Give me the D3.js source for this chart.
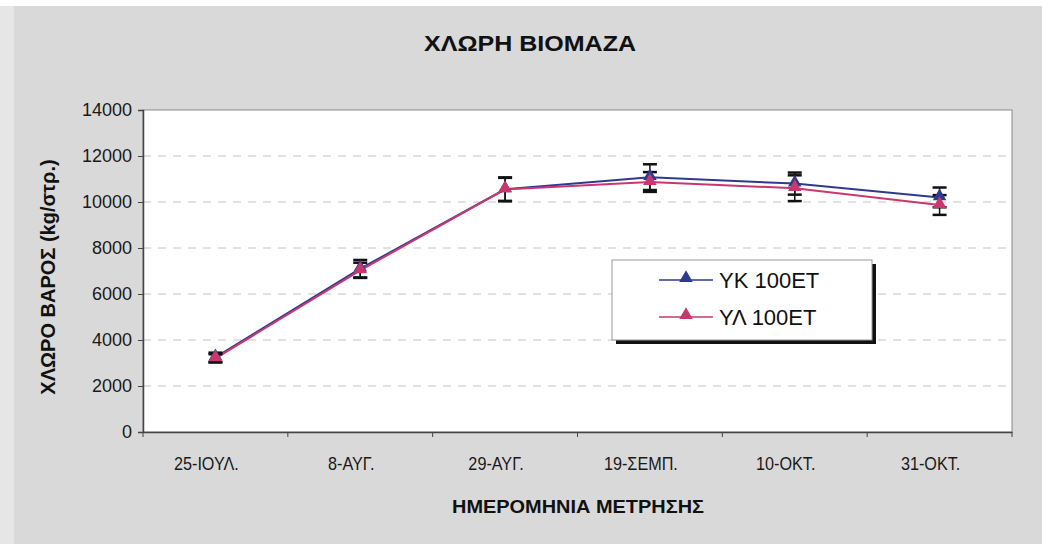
<!DOCTYPE html>
<html><head><meta charset="utf-8">
<script src="https://cdn.jsdelivr.net/npm/d3@7"></script>
<style>
html,body{margin:0;padding:0;background:#fff;}
svg{display:block;}
</style></head>
<body>
<svg id="chart" width="1042" height="544"></svg>
<script>
const categories = ["25-ΙΟΥΛ.", "8-ΑΥΓ.", "29-ΑΥΓ.", "19-ΣΕΜΠ.", "10-ΟΚΤ.", "31-ΟΚΤ."];
const seriesNames = ["ΥΚ 100ΕΤ", "ΥΛ 100ΕΤ"];
const ykValues = [3250, 7100, 10550, 11080, 10800, 10200];
const ykErrors = [200, 380, 520, 560, 480, 430];
const ylValues = [3200, 7030, 10550, 10870, 10600, 9870];
const ylErrors = [180, 330, 500, 430, 560, 430];
const yTicks = [0, 2000, 4000, 6000, 8000, 10000, 12000, 14000];

const W = 1042, H = 544;
const m = {left: 143, right: 1012, top: 110, bottom: 432};
const svg = d3.select("#chart");
const sans = "'Liberation Sans',Arial,sans-serif";

svg.append("rect").attr("x",0).attr("y",6).attr("width",W).attr("height",H-6).attr("fill","#d9d9d9");
svg.append("rect").attr("x",0).attr("y",6).attr("width",14).attr("height",H-6).attr("fill","#e6e6e6");

const x = d3.scaleBand().domain(categories).range([m.left, m.right]).padding(0);
const y = d3.scaleLinear().domain([0,14000]).range([m.bottom, m.top]);

// plot area
svg.append("rect").attr("x",m.left).attr("y",m.top).attr("width",m.right-m.left).attr("height",m.bottom-m.top)
  .attr("fill","#ffffff").attr("stroke","#8a8a8a").attr("stroke-width",1);

// gridlines
svg.append("g").selectAll("line").data(yTicks.filter(d=>d>0&&d<14000)).join("line")
  .attr("x1",m.left).attr("x2",m.right).attr("y1",d=>y(d)).attr("y2",d=>y(d))
  .attr("stroke","#c4c4c4").attr("stroke-width",1).attr("stroke-dasharray","8,7");

// y axis
const yAxis = svg.append("g").attr("transform",`translate(${m.left},0)`)
  .call(d3.axisLeft(y).tickValues(yTicks).tickSize(5).tickPadding(6).tickFormat(d3.format("d")));
yAxis.select(".domain").attr("stroke","#444").attr("stroke-width",1.5);
yAxis.selectAll(".tick line").attr("stroke","#444");
yAxis.selectAll("text").attr("font-family",sans).attr("font-size",18).attr("fill","#1a1a1a");

// x axis
const xAxis = svg.append("g").attr("transform",`translate(0,${m.bottom})`)
  .call(d3.axisBottom(x).tickSize(0).tickPadding(23));
xAxis.select(".domain").attr("stroke","#444").attr("stroke-width",1.5);
xAxis.selectAll("text").attr("font-family",sans).attr("font-size",18).attr("fill","#1a1a1a")
  .attr("dx",-10).attr("transform","scale(0.9,1.05)");
svg.append("g").selectAll("line").data(d3.range(categories.length+1)).join("line")
  .attr("x1",i=>m.left+i*x.bandwidth()).attr("x2",i=>m.left+i*x.bandwidth())
  .attr("y1",m.bottom).attr("y2",m.bottom+5).attr("stroke","#444");

// title
svg.append("text").attr("x",530).attr("y",51).attr("text-anchor","middle")
  .attr("font-family",sans).attr("font-weight","bold").attr("font-size",22).attr("fill","#111")
  .attr("textLength",212).attr("lengthAdjust","spacingAndGlyphs")
  .text("ΧΛΩΡΗ ΒΙΟΜΑΖΑ");
// y title
svg.append("text").attr("transform",`translate(55,277) rotate(-90)`).attr("text-anchor","middle")
  .attr("font-family",sans).attr("font-weight","bold").attr("font-size",20).attr("fill","#111")
  .text("ΧΛΩΡΟ ΒΑΡΟΣ (kg/στρ.)");
// x title
svg.append("text").attr("x",578).attr("y",513).attr("text-anchor","middle")
  .attr("font-family",sans).attr("font-weight","bold").attr("font-size",18).attr("fill","#111")
  .attr("textLength",252).attr("lengthAdjust","spacingAndGlyphs")
  .text("ΗΜΕΡΟΜΗΝΙΑ ΜΕΤΡΗΣΗΣ");

const cx = c => x(c) + x.bandwidth()/2;
const tri = d3.symbol().type(d3.symbolTriangle).size(80);
const series = [
  {name: seriesNames[0], values: ykValues, errors: ykErrors, color: "#2f3a8f"},
  {name: seriesNames[1], values: ylValues, errors: ylErrors, color: "#c8386e"}
];
const line = d3.line().x((d,i)=>cx(categories[i])).y(d=>y(d));

series.forEach(s => {
  svg.append("path").datum(s.values).attr("d",line).attr("fill","none")
    .attr("stroke",s.color).attr("stroke-width",2);
});
series.forEach(s => {
  const g = svg.append("g");
  s.values.forEach((v,i)=>{
    const px = cx(categories[i]);
    g.append("line").attr("x1",px).attr("x2",px).attr("y1",y(v-s.errors[i])).attr("y2",y(v+s.errors[i]))
      .attr("stroke","#111").attr("stroke-width",1.5);
    [v-s.errors[i], v+s.errors[i]].forEach(e=>{
      g.append("line").attr("x1",px-7).attr("x2",px+7).attr("y1",y(e)).attr("y2",y(e))
        .attr("stroke","#111").attr("stroke-width",2.5);
    });
  });
});
series.forEach(s => {
  svg.append("g").selectAll("path").data(s.values).join("path")
    .attr("d",tri).attr("transform",(d,i)=>`translate(${cx(categories[i])},${y(d)-1})`)
    .attr("fill",s.color);
});

// legend
const lg = svg.append("g");
lg.append("rect").attr("x",616).attr("y",264).attr("width",260).attr("height",80).attr("fill","#111");
lg.append("rect").attr("x",612).attr("y",260).attr("width",260).attr("height",80).attr("fill","#fff")
  .attr("stroke","#999").attr("stroke-width",1);
series.forEach((s,i)=>{
  const ly = 280 + i*37;
  lg.append("line").attr("x1",659).attr("x2",713).attr("y1",ly).attr("y2",ly).attr("stroke",s.color).attr("stroke-width",1.5);
  lg.append("path").attr("d",tri).attr("transform",`translate(686,${ly-2})`).attr("fill",s.color);
  lg.append("text").attr("x",719).attr("y",ly+8).attr("font-family",sans).attr("font-size",22).attr("fill","#111").text(s.name);
});
</script>
</body></html>
